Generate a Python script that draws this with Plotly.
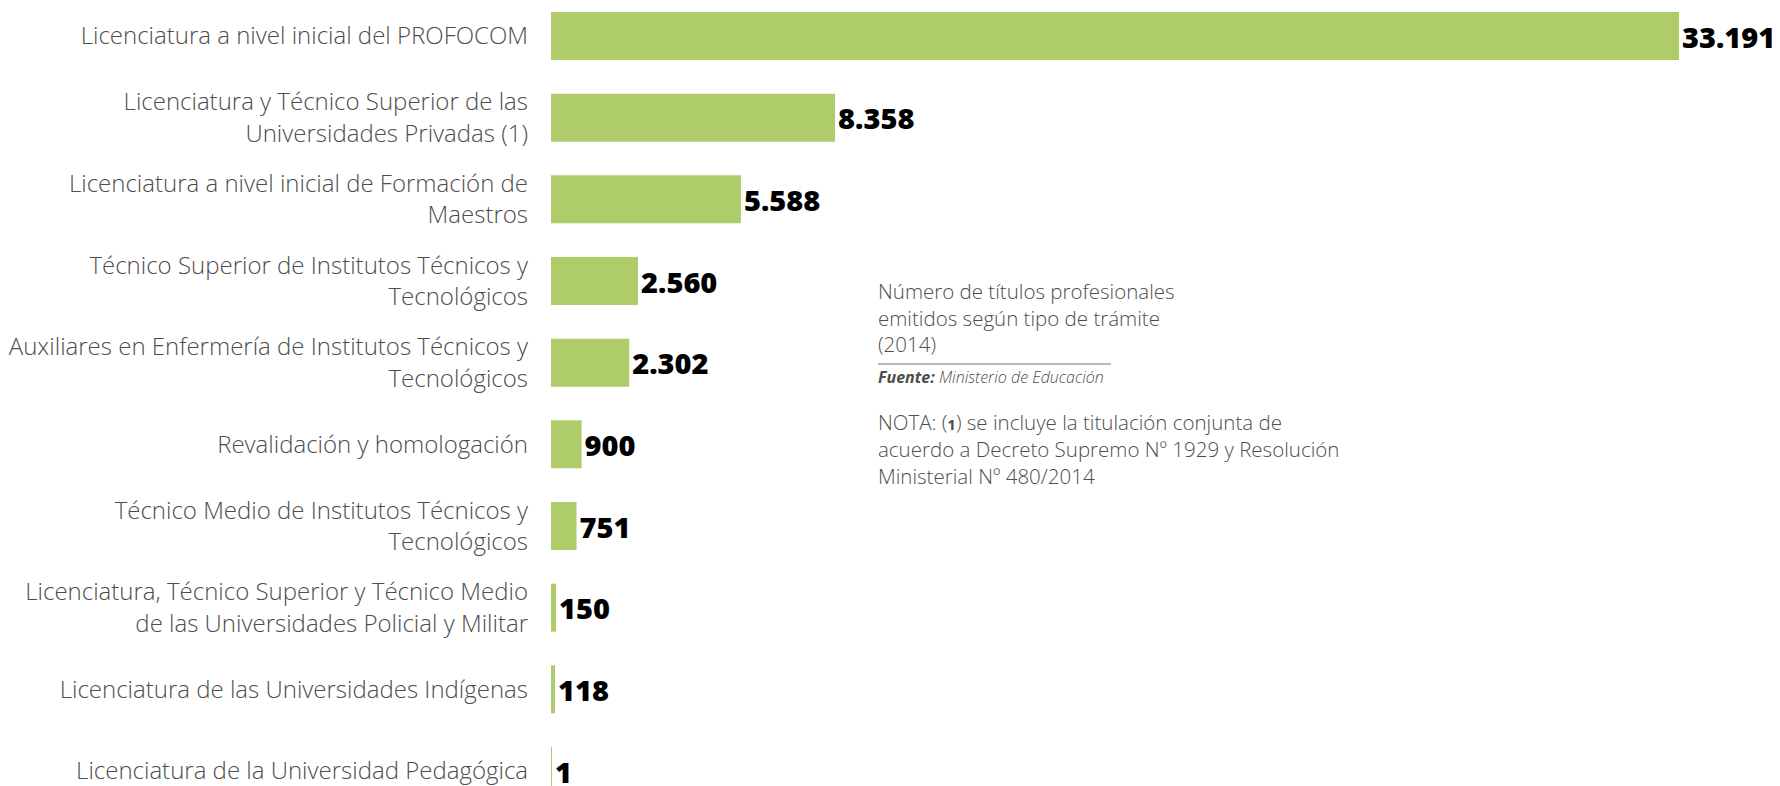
import plotly.graph_objects as go

categories = [
    "Licenciatura a nivel inicial del PROFOCOM",
    "Licenciatura y Técnico Superior de las<br>Universidades Privadas (1)",
    "Licenciatura a nivel inicial de Formación de<br>Maestros",
    "Técnico Superior de Institutos Técnicos y<br>Tecnológicos",
    "Auxiliares en Enfermería de Institutos Técnicos y<br>Tecnológicos",
    "Revalidación y homologación",
    "Técnico Medio de Institutos Técnicos y<br>Tecnológicos",
    "Licenciatura, Técnico Superior y Técnico Medio<br>de las Universidades Policial y Militar",
    "Licenciatura de las Universidades Indígenas",
    "Licenciatura de la Universidad Pedagógica",
]
values = [33191, 8358, 5588, 2560, 2302, 900, 751, 150, 118, 1]
positions = list(range(len(categories)))
value_labels = [f"{v:,}".replace(",", ".") for v in values]

GREEN = "#AECD6A"
GRAY = "#4d4d4d"
FONT = "Open Sans"
OFF = 8  # default body margin of the html page

fig = go.Figure()
fig.add_trace(go.Bar(
    x=values, y=positions, orientation="h",
    marker=dict(color=GREEN, line=dict(width=0)),
    width=0.588,
    text=value_labels, textposition="outside",
    textfont=dict(family=FONT, size=29, color="#000000", weight=800),
    constraintext="none", cliponaxis=False,
    hoverinfo="skip",
))

W, H = 1780 - OFF, 786 - OFF
L = 551 - OFF
pw = W - L

def px(x):
    return (x - OFF - L) / pw

def py(y):
    return 1 - (y - OFF) / H

ann = []
def add(text, x, yc, size, italic=False):
    ann.append(dict(text=text, x=px(x), y=py(yc), xref="paper", yref="paper",
                    xanchor="left", yanchor="middle", showarrow=False,
                    font=dict(family=FONT, size=size, color=GRAY, weight=300,
                              style="italic" if italic else "normal"),
                    align="left"))

add("Número de títulos profesionales", 876, 291, 20.5)
add("emitidos según tipo de trámite", 876, 318, 20.5)
add("(2014)", 876, 344, 20.5)
add("<b>Fuente:</b> Ministerio de Educación", 876, 377, 16, italic=True)
add("NOTA: (<b><span style='font-size:15px'>1</span></b>) se incluye la titulación conjunta de", 876, 422, 20.5)
add("acuerdo a Decreto Supremo Nº 1929 y Resolución", 876, 449, 20.5)
add("Ministerial Nº 480/2014", 876, 476, 20.5)

fig.update_layout(
    width=W, height=H,
    margin=dict(l=L, r=0, t=0, b=0),
    paper_bgcolor="white", plot_bgcolor="white",
    showlegend=False,
    annotations=ann,
    shapes=[dict(type="line", xref="paper", yref="paper",
                 x0=px(878), x1=px(1111), y0=py(364), y1=py(364),
                 line=dict(color="#777777", width=1))],
    xaxis=dict(range=[0, 36163], visible=False, fixedrange=True),
    yaxis=dict(
        range=[9 + 15 / 81.67, -(36 - OFF) / 81.67],
        tickvals=positions, ticktext=categories,
        showgrid=False, zeroline=False, showline=False,
        ticks="", ticklabelstandoff=22, ticklabeloverflow="allow",
        tickfont=dict(family=FONT, size=24, color=GRAY, weight=300),
    ),
)

fig.write_html("out.html")
